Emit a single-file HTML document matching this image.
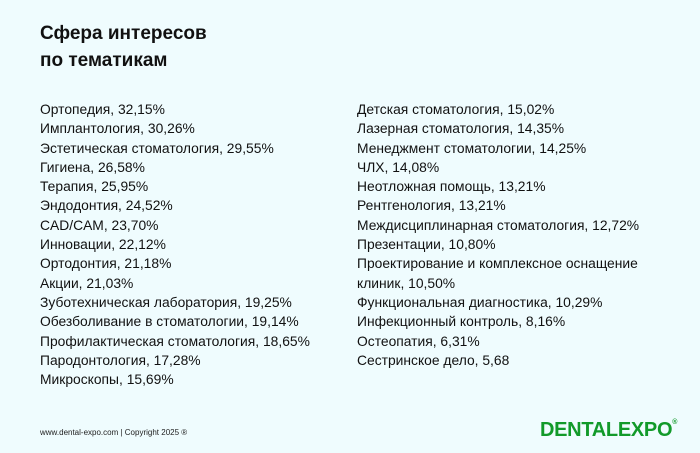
<!DOCTYPE html>
<html><head><meta charset="utf-8"><style>
body{margin:0;width:700px;height:453px;background:#effcfe;font-family:"Liberation Sans","DejaVu Sans",sans-serif;color:#111;position:relative;overflow:hidden}
.t{position:absolute;left:40px;top:20px;font-weight:bold;font-size:19px;line-height:27px}
.col{position:absolute;top:100px;font-size:13.85px;line-height:19.3px;white-space:nowrap}
.f{position:absolute;left:40px;top:428px;font-size:8px;color:#222}
.logo{position:absolute;left:540px;top:419px;font-weight:bold;font-size:20px;color:#129a2a;letter-spacing:-0.3px}
.logo sup{font-size:7px;vertical-align:top}
</style></head><body>
<div class="t">Сфера интересов<br>по тематикам</div>
<div class="col" style="left:40px">Ортопедия, 32,15%<br>Имплантология, 30,26%<br>Эстетическая стоматология, 29,55%<br>Гигиена, 26,58%<br>Терапия, 25,95%<br>Эндодонтия, 24,52%<br>CAD/CAM, 23,70%<br>Инновации, 22,12%<br>Ортодонтия, 21,18%<br>Акции, 21,03%<br>Зуботехническая лаборатория, 19,25%<br>Обезболивание в стоматологии, 19,14%<br>Профилактическая стоматология, 18,65%<br>Пародонтология, 17,28%<br>Микроскопы, 15,69%</div>
<div class="col" style="left:357px">Детская стоматология, 15,02%<br>Лазерная стоматология, 14,35%<br>Менеджмент стоматологии, 14,25%<br>ЧЛХ, 14,08%<br>Неотложная помощь, 13,21%<br>Рентгенология, 13,21%<br>Междисциплинарная стоматология, 12,72%<br>Презентации, 10,80%<br>Проектирование и комплексное оснащение<br>клиник, 10,50%<br>Функциональная диагностика, 10,29%<br>Инфекционный контроль, 8,16%<br>Остеопатия, 6,31%<br>Сестринское дело, 5,68</div>
<div class="f">www.dental-expo.com | Copyright 2025 ®</div>
<div class="logo">DENTALEXPO<sup>®</sup></div>
</body></html>
